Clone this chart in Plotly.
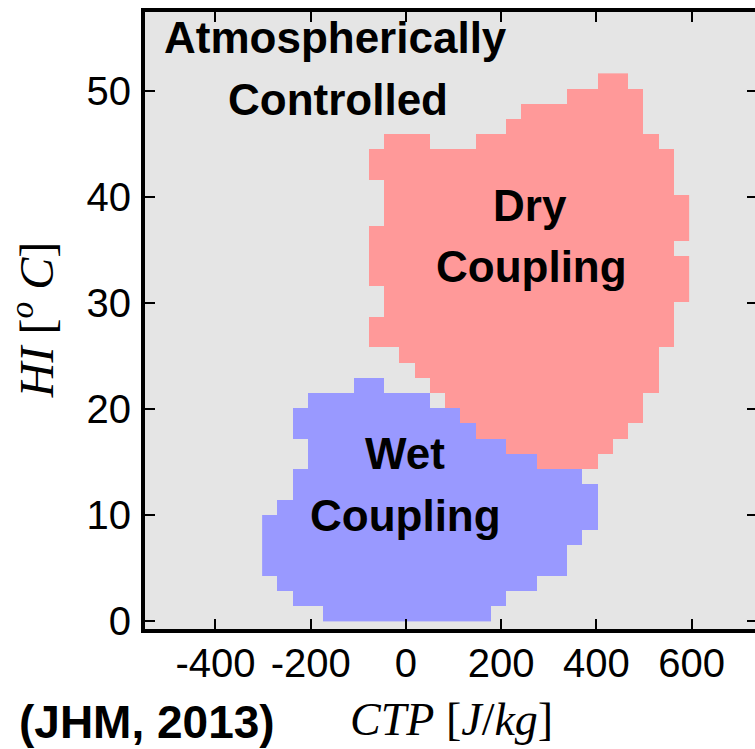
import plotly.graph_objects as go

# ---- data -------------------------------------------------------------
ctp_origin = -302.0      # J/kg, left edge of first CTP bin
ctp_bin = 32.0           # J/kg
hi_bin = 1.435           # deg C
n_cols = 28
n_rows = 36

# Wet coupling regime: (HI row, first CTP col, last CTP col)
wet_row = [0, 1, 2, 3, 4, 5, 6, 7, 8, 9, 10, 11, 12, 13, 14, 15]
wet_first = [4, 2, 1, 0, 0, 0, 0, 1, 2, 2, 3, 3, 2, 2, 3, 6]
wet_last = [14, 15, 17, 19, 19, 20, 21, 21, 21, 20, 17, 15, 13, 12, 10, 7]

# Dry coupling regime (row 31 has two segments)
dry_row = [10, 11, 12, 13, 14, 15, 16, 17, 18, 19, 20, 21, 22, 23, 24, 25,
           26, 27, 28, 29, 30, 31, 31, 32, 33, 34, 35]
dry_first = [18, 16, 14, 13, 12, 11, 10, 9, 7, 7, 8, 8, 7, 7, 7, 7,
             8, 8, 8, 7, 7, 8, 14, 16, 17, 20, 22]
dry_last = [21, 22, 23, 24, 24, 25, 25, 25, 26, 26, 26, 27, 27, 27, 26, 27,
            27, 27, 26, 26, 26, 10, 25, 24, 24, 24, 23]

x_ticks = [-400, -200, 0, 200, 400, 600]
x_tick_text = ["-400", "-200", "0", "200", "400", "600"]
y_ticks = [0, 10, 20, 30, 40, 50]

labels = [
    ("Atmospherically", -149, 55.0),
    ("Controlled", -143, 49.2),
    ("Dry", 260, 39.2),
    ("Coupling", 263, 33.4),
    ("Wet", -2, 15.8),
    ("Coupling", 0, 10.0),
]

# ---- build grid -------------------------------------------------------
z = [[None] * n_cols for _ in range(n_rows)]
for r, a, b in zip(wet_row, wet_first, wet_last):
    for c in range(a, b + 1):
        z[r][c] = 1
for r, a, b in zip(dry_row, dry_first, dry_last):
    for c in range(a, b + 1):
        z[r][c] = 2

x_centers = [ctp_origin + ctp_bin * (i + 0.5) for i in range(n_cols)]
y_centers = [hi_bin * (j + 0.5) for j in range(n_rows)]

BLUE = "#9999ff"
RED = "#ff9999"

fig = go.Figure()
fig.add_trace(go.Heatmap(
    x=x_centers, y=y_centers, z=z, zmin=1, zmax=2,
    colorscale=[[0, BLUE], [0.5, BLUE], [0.5, RED], [1, RED]],
    showscale=False, hoverinfo="skip", zsmooth=False,
))
# invisible trace carrying the right-side tick axis
fig.add_trace(go.Scatter(x=[0], y=[0], yaxis="y2", mode="markers",
                         marker=dict(opacity=0), showlegend=False,
                         hoverinfo="skip"))

SANS = "Liberation Sans, Arial, sans-serif"
SERIF = "Liberation Serif, serif"
tick_font = dict(family=SANS, size=40, color="black")

fig.update_layout(
    width=755, height=749,
    margin=dict(l=145, r=0, t=12, b=120),
    paper_bgcolor="white", plot_bgcolor="#e5e5e5",
    showlegend=False,
    xaxis=dict(range=[-548, 733], tickvals=x_ticks, ticktext=x_tick_text,
               ticks="inside", ticklen=10, tickwidth=1.5, tickcolor="black",
               showline=True, linewidth=4, linecolor="black", mirror="ticks",
               showgrid=False, zeroline=False, tickfont=tick_font,
               ticklabelstandoff=-4),
    yaxis=dict(range=[-0.75, 57.45], tickvals=y_ticks, ticks="inside",
               ticklen=10, tickwidth=1.5, tickcolor="black",
               showline=True, linewidth=4, linecolor="black", mirror=False,
               showgrid=False, zeroline=False, tickfont=tick_font,
               ticklabelstandoff=2),
    yaxis2=dict(overlaying="y", side="right", matches="y", tickvals=y_ticks,
                ticks="inside", ticklen=8, tickwidth=1.5, tickcolor="black",
                showticklabels=False, showline=False, showgrid=False,
                zeroline=False),
)

for text, x, y in labels:
    fig.add_annotation(x=x, y=y, xref="x", yref="y", text="<b>%s</b>" % text,
                       showarrow=False, xanchor="center", yanchor="middle",
                       font=dict(family=SANS, size=44, color="black"))

fig.add_annotation(x=-0.184, y=0.5, xref="paper", yref="paper",
                   xanchor="center", yanchor="middle",
                   text="<i>HI</i> [<sup><i>o</i></sup> <i>C</i>]",
                   textangle=-90, showarrow=False,
                   font=dict(family=SERIF, size=48, color="black"))
fig.add_annotation(x=0.503, y=-0.147, xref="paper", yref="paper",
                   xanchor="center", yanchor="middle",
                   text="<i>CTP</i> [<i>J</i>/<i>kg</i>]",
                   showarrow=False,
                   font=dict(family=SERIF, size=46, color="black"))
fig.add_annotation(x=0.004, y=-0.151, xref="paper", yref="paper",
                   xanchor="center", yanchor="middle",
                   text="<b>(JHM, 2013)</b>", showarrow=False,
                   font=dict(family=SANS, size=46, color="black"))

fig.write_html("out.html")
